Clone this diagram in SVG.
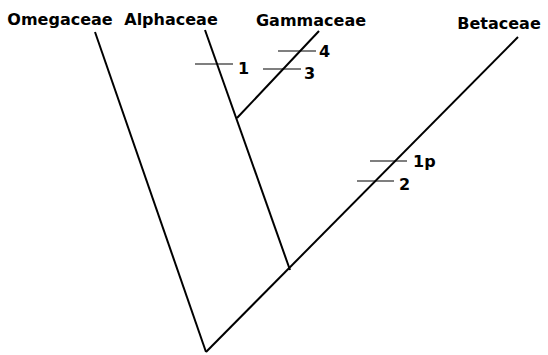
<svg xmlns="http://www.w3.org/2000/svg" width="548" height="355" viewBox="0 0 548 355">
<style>
.lbl{font-family:"DejaVu Sans",sans-serif;font-weight:bold;font-size:16px;fill:#000}
.br{stroke:#000;stroke-width:2;fill:none}
.tk{stroke:#000;stroke-width:1.2;fill:none}
</style>
<rect width="548" height="355" fill="#fff"/>
<g id="connectors">
<line class="br" x1="95" y1="32" x2="206" y2="352"/>
<line class="br" x1="205" y1="30" x2="290" y2="270"/>
<line class="br" x1="319" y1="31" x2="237" y2="118"/>
<line class="br" x1="518" y1="37" x2="206" y2="352"/>
</g>
<g id="Omegaceae"><text class="lbl" x="60" y="25" text-anchor="middle">Omegaceae</text></g>
<g id="Alphaceae"><text class="lbl" x="171" y="25" text-anchor="middle">Alphaceae</text></g>
<g id="Gammaceae"><text class="lbl" x="311" y="26" text-anchor="middle">Gammaceae</text></g>
<g id="Betaceae"><text class="lbl" x="499" y="29" text-anchor="middle">Betaceae</text></g>
<g id="mark1"><line class="tk" x1="195" y1="64" x2="233" y2="64"/><text class="lbl" x="238" y="74">1</text></g>
<g id="mark4"><line class="tk" x1="278" y1="51" x2="316" y2="51"/><text class="lbl" x="319" y="57">4</text></g>
<g id="mark3"><line class="tk" x1="263" y1="69" x2="301" y2="69"/><text class="lbl" x="304" y="79">3</text></g>
<g id="mark1p"><line class="tk" x1="370" y1="161" x2="407" y2="161"/><text class="lbl" x="413" y="167">1p</text></g>
<g id="mark2"><line class="tk" x1="357" y1="181" x2="394" y2="181"/><text class="lbl" x="399" y="190">2</text></g>
</svg>
